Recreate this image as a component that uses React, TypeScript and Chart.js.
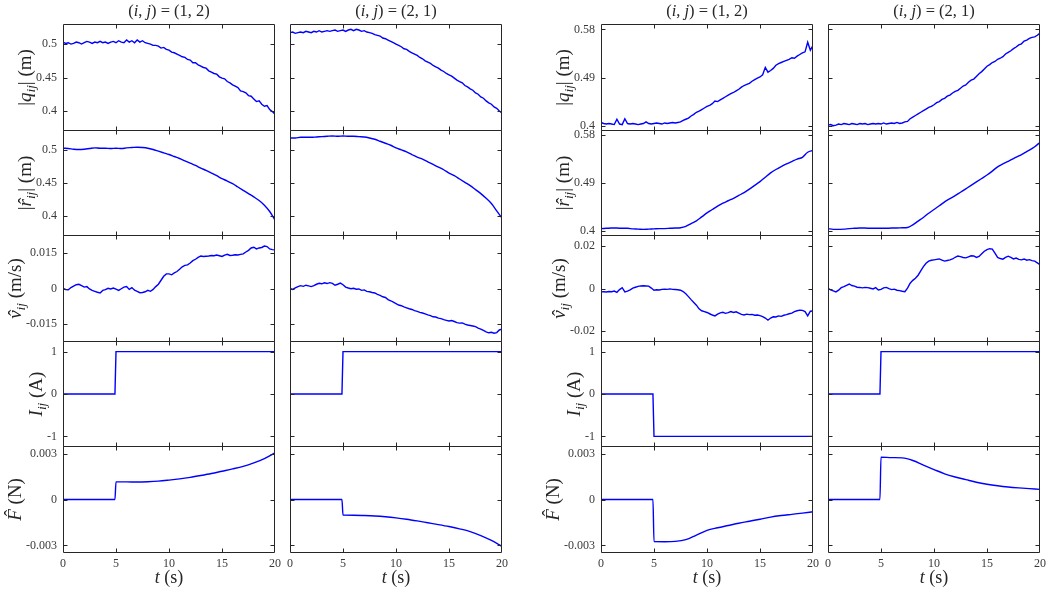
import React, { useEffect, useRef } from "react";
import { Chart, registerables } from "chart.js";
Chart.register(...registerables);

// ---------- sampling grids (s) ----------
const T_FINE = Array.from({ length: 81 }, (_, i) => i * 0.25);
const T_COARSE = Array.from({ length: 41 }, (_, i) => i * 0.5);
const T_CURRENT = [0, 4.9, 5, 20];
const T_FORCE = [0, 4.9, 5, 6, 7, 8, 9, 10, 11, 12, 13, 14, 15, 16, 17, 18, 19, 20];

// ---------- |q_ij| (m) ----------
const Q_L12 = [
  0.503, 0.501, 0.502, 0.5, 0.501, 0.503, 0.502, 0.5,
  0.502, 0.504, 0.503, 0.501, 0.503, 0.502, 0.504, 0.502,
  0.503, 0.501, 0.503, 0.504, 0.502, 0.505, 0.503, 0.502,
  0.506, 0.503, 0.505, 0.502, 0.506, 0.503, 0.505, 0.502,
  0.501, 0.5, 0.498, 0.498, 0.497, 0.494, 0.495, 0.492,
  0.491, 0.488, 0.487, 0.485, 0.483, 0.481, 0.48, 0.477,
  0.476, 0.472, 0.472, 0.469, 0.467, 0.465, 0.464, 0.46,
  0.458, 0.456, 0.455, 0.451, 0.449, 0.448, 0.444, 0.442,
  0.439, 0.437, 0.435, 0.43, 0.429, 0.427, 0.423, 0.422,
  0.418, 0.414, 0.415, 0.41, 0.407, 0.408, 0.402, 0.399,
  0.395,
];
const Q_L21 = [
  0.517, 0.518, 0.516, 0.517, 0.518, 0.517, 0.519, 0.518,
  0.517, 0.519, 0.518, 0.52, 0.518, 0.519, 0.52, 0.519,
  0.52, 0.521, 0.519, 0.52, 0.521, 0.519, 0.521, 0.522,
  0.52, 0.522, 0.521, 0.519, 0.52, 0.518, 0.517, 0.516,
  0.514, 0.513, 0.512, 0.509, 0.508, 0.506, 0.504, 0.502,
  0.5, 0.498, 0.496, 0.493, 0.492, 0.489, 0.487, 0.485,
  0.483, 0.48, 0.478, 0.475, 0.473, 0.471, 0.468, 0.466,
  0.464, 0.461, 0.459, 0.456, 0.454, 0.452, 0.449, 0.446,
  0.444, 0.442, 0.438, 0.436, 0.433, 0.431, 0.427, 0.425,
  0.421, 0.419, 0.415, 0.412, 0.41, 0.406, 0.404, 0.4,
  0.397,
];
const Q_R12 = [
  0.406, 0.404, 0.403, 0.404, 0.403, 0.402, 0.412, 0.403,
  0.402, 0.413, 0.404, 0.403, 0.404, 0.403, 0.402, 0.403,
  0.404, 0.407, 0.404, 0.403, 0.404, 0.405, 0.404, 0.403,
  0.405, 0.404, 0.405, 0.406, 0.405, 0.406, 0.407, 0.41,
  0.412, 0.414, 0.418, 0.421, 0.425, 0.427, 0.43, 0.433,
  0.436, 0.438, 0.441, 0.446, 0.445, 0.448, 0.451, 0.454,
  0.457, 0.46, 0.462, 0.465, 0.468, 0.472, 0.475, 0.477,
  0.479, 0.483, 0.486, 0.489, 0.491, 0.495, 0.509, 0.5,
  0.503, 0.507, 0.513, 0.516, 0.518, 0.52, 0.522, 0.524,
  0.527, 0.526, 0.53, 0.533, 0.536, 0.538, 0.556, 0.541,
  0.55,
];
const Q_R21 = [
  0.401, 0.402, 0.4, 0.401, 0.403, 0.402, 0.404, 0.403,
  0.402, 0.404, 0.403, 0.402, 0.404, 0.403, 0.404, 0.402,
  0.403, 0.404, 0.403, 0.404, 0.403, 0.405, 0.403, 0.404,
  0.405, 0.404, 0.406, 0.404, 0.405, 0.407, 0.408, 0.413,
  0.416, 0.419, 0.422, 0.425, 0.428, 0.431, 0.434, 0.436,
  0.439, 0.443, 0.445, 0.449, 0.451, 0.455, 0.457, 0.461,
  0.464, 0.466, 0.47, 0.474, 0.476, 0.481, 0.485, 0.487,
  0.492, 0.497, 0.501, 0.506, 0.511, 0.514, 0.518, 0.52,
  0.524, 0.526, 0.529, 0.534, 0.537, 0.54, 0.544, 0.547,
  0.551, 0.553, 0.558, 0.56, 0.563, 0.565, 0.566, 0.569,
  0.573,
];

// ---------- |r̂_ij| (m) ----------
const R_L12 = [
  0.5025, 0.502, 0.501, 0.5005, 0.501, 0.502, 0.503, 0.5025, 0.5025, 0.502,
  0.5025, 0.502, 0.503, 0.5035, 0.504, 0.5035, 0.5025, 0.5005, 0.498, 0.4955,
  0.493, 0.49, 0.487, 0.4835, 0.48, 0.4765, 0.4725, 0.469, 0.465, 0.461,
  0.4565, 0.453, 0.449, 0.444, 0.439, 0.434, 0.429, 0.4235, 0.4165, 0.407,
  0.394,
];
const R_L21 = [
  0.518, 0.518, 0.519, 0.519, 0.519, 0.5195, 0.52, 0.5205, 0.521, 0.5205,
  0.521, 0.5205, 0.5205, 0.52, 0.5195, 0.518, 0.516, 0.513, 0.51, 0.507,
  0.503, 0.5, 0.497, 0.493, 0.489, 0.486, 0.482, 0.478, 0.474, 0.47,
  0.465, 0.461, 0.456, 0.451, 0.446, 0.44, 0.434, 0.427, 0.419, 0.408,
  0.397,
];
const R_R12 = [
  0.404, 0.4045, 0.405, 0.405, 0.4045, 0.4045, 0.4035, 0.403, 0.4025, 0.403,
  0.4035, 0.404, 0.404, 0.4045, 0.405, 0.4055, 0.408, 0.4135, 0.4185, 0.426,
  0.4335, 0.44, 0.4465, 0.452, 0.4565, 0.461, 0.4665, 0.472, 0.4785, 0.4855,
  0.4925, 0.501, 0.509, 0.5155, 0.521, 0.526, 0.5305, 0.535, 0.5385, 0.548,
  0.5515,
];
const R_R21 = [
  0.404, 0.4025, 0.4025, 0.403, 0.404, 0.4045, 0.405, 0.405, 0.4045, 0.4045,
  0.4045, 0.4045, 0.405, 0.405, 0.4055, 0.406, 0.411, 0.418, 0.425, 0.433,
  0.44, 0.447, 0.4545, 0.4605, 0.466, 0.4725, 0.479, 0.4855, 0.492, 0.4985,
  0.505, 0.5125, 0.5205, 0.526, 0.531, 0.536, 0.541, 0.5465, 0.552, 0.5585,
  0.5665,
];

// ---------- v̂_ij (m/s) ----------
const V_L12 = [
  0, -0.0004, -0.0005, 0.0004, 0.001, 0.0016, 0.0018, 0.0012,
  0.0006, 0.0008, -0.0002, -0.0008, -0.0012, -0.0016, -0.0019, -0.0008,
  -0.0005, 0.0001, -0.0002, 0.0002, -0.0003, -0.0008, -0.0001, 0.0006,
  0.0008, -0.0004, 0.0004, -0.0007, -0.0012, -0.0018, -0.0017, -0.0014,
  -0.0008, -0.0012, -0.0004, 0.0008, 0.0018, 0.0035, 0.0052, 0.0062,
  0.0062, 0.0058, 0.0066, 0.0072, 0.0082, 0.0092, 0.0098, 0.01,
  0.0108, 0.0118, 0.0124, 0.0132, 0.0138, 0.0136, 0.0137, 0.0138,
  0.014, 0.0139, 0.0142, 0.0139, 0.0136, 0.0142, 0.0145, 0.014,
  0.0141, 0.0143, 0.0142, 0.0145, 0.0147, 0.0155, 0.0162, 0.0172,
  0.0175, 0.0168, 0.0172, 0.0174, 0.018, 0.0178, 0.0168, 0.0165,
  0.0164,
];
const V_L21 = [
  0, -0.0004, 0.0003, 0.0008, 0.0012, 0.0009, 0.0014, 0.0011,
  0.0008, 0.0012, 0.0018, 0.0022, 0.002, 0.0024, 0.0021, 0.0025,
  0.0022, 0.0014, 0.0018, 0.0023, 0.0016, 0.0006, 0.0002, -0.0001,
  0.0001, -0.0003, -0.0002, -0.0008, -0.0006, -0.0012, -0.0014, -0.0017,
  -0.0019, -0.0025, -0.0029, -0.0035, -0.0038, -0.0047, -0.0052, -0.0058,
  -0.0064, -0.007, -0.0073, -0.0078, -0.0082, -0.0086, -0.0089, -0.0094,
  -0.0097, -0.0101, -0.0104, -0.0108, -0.0112, -0.0115, -0.012, -0.0121,
  -0.0126, -0.0128, -0.0132, -0.0135, -0.0138, -0.0136, -0.014, -0.0145,
  -0.0147, -0.0146, -0.0151, -0.0155, -0.0157, -0.0159, -0.0162, -0.0168,
  -0.0172, -0.0178, -0.0184, -0.0188, -0.0186, -0.019, -0.0187, -0.0176,
  -0.0172,
];
const V_R12 = [
  -0.0016, -0.0015, -0.0016, -0.0014, -0.0015, -0.0012, -0.0018, -0.0005,
  0.0004, -0.0016, -0.0012, -0.0006, 0.0002, 0.0006, 0.001, 0.0012,
  0.0013, 0.0012, 0.0011, 0.0002, -0.0008, -0.0006, -0.0007, -0.0004,
  -0.0003, -0.0004, -0.0002, -0.0004, -0.0005, -0.0006, -0.0008, -0.0014,
  -0.0025, -0.0038, -0.0052, -0.0065, -0.0078, -0.0095, -0.0104, -0.0108,
  -0.0112, -0.0118, -0.0124, -0.0128, -0.012, -0.0114, -0.0111, -0.0116,
  -0.0113, -0.0108, -0.0112, -0.0109, -0.0115, -0.0121, -0.0124, -0.012,
  -0.0122, -0.0121, -0.0125, -0.0124, -0.0127, -0.0131, -0.0138, -0.0148,
  -0.0138, -0.0132, -0.0133, -0.0128, -0.013, -0.0125, -0.0122, -0.0118,
  -0.0115, -0.0108, -0.0104, -0.0101, -0.0102, -0.0108, -0.0128, -0.0106,
  -0.0105,
];
const V_R21 = [
  0, -0.0006, -0.0011, -0.0016, -0.0008, 0.0004, 0.0009, 0.0015,
  0.0021, 0.0014, 0.0011, 0.0006, 0.0005, 0.0003, 0.0005, 0.0004,
  0.0001, -0.0002, 0.0004, -0.0007, -0.0004, 0.0003, 0.0005, -0.0001,
  -0.0005, -0.0003, -0.0008, -0.001, -0.0013, -0.0015, 0.0002, 0.0025,
  0.0038, 0.0048, 0.0062, 0.0082, 0.0102, 0.0118, 0.0128, 0.0132,
  0.0134, 0.0136, 0.0138, 0.0133, 0.0128, 0.0131, 0.0134, 0.0138,
  0.0146, 0.0152, 0.0149, 0.0145, 0.0143, 0.0148, 0.0153, 0.0152,
  0.0145, 0.015, 0.0162, 0.0174, 0.0182, 0.0186, 0.0184, 0.0165,
  0.0145, 0.014, 0.0137, 0.0145, 0.0151, 0.0145, 0.0138, 0.0142,
  0.0136, 0.0134, 0.0138, 0.0132, 0.0135, 0.013, 0.0128, 0.012,
  0.0111,
];

// ---------- I_ij (A) ----------
const I_L12 = [0, 0, 1, 1];
const I_L21 = [0, 0, 1, 1];
const I_R12 = [0, 0, -1, -1];
const I_R21 = [0, 0, 1, 1];

// ---------- F̂ (N) ----------
const F_L12 = [0, 0, 0.00115, 0.00115, 0.00114, 0.00116, 0.0012, 0.00127, 0.00135, 0.00145, 0.00157, 0.0017, 0.00185, 0.002, 0.00217, 0.0024, 0.00268, 0.00305];
const F_L21 = [0, 0, -0.00102, -0.00103, -0.00105, -0.00108, -0.00113, -0.0012, -0.00129, -0.0014, -0.00152, -0.00164, -0.00177, -0.00192, -0.0021, -0.00236, -0.00268, -0.00306];
const F_R12 = [0, 0, -0.00275, -0.00276, -0.00274, -0.00263, -0.00233, -0.00202, -0.00185, -0.0017, -0.00155, -0.00142, -0.00129, -0.00115, -0.00105, -0.00097, -0.00089, -0.0008];
const F_R21 = [0, 0, 0.00277, 0.00274, 0.00272, 0.00255, 0.00225, 0.00196, 0.00168, 0.00147, 0.0013, 0.00113, 0.001, 0.0009, 0.00082, 0.00076, 0.00071, 0.00066];

// ---------- ticks ----------
const X_TICKS = [0, 5, 10, 15, 20];
const X_TICK_LABELS = ["0", "5", "10", "15", "20"];
const Q_TICKS_L = [0.4, 0.45, 0.5];
const Q_TICK_LABELS_L = ["0.4", "0.45", "0.5"];
const Q_TICKS_R = [0.4, 0.49, 0.58];
const Q_TICK_LABELS_R = ["0.4", "0.49", "0.58"];
const V_TICKS_L = [-0.015, 0, 0.015];
const V_TICK_LABELS_L = ["-0.015", "0", "0.015"];
const V_TICKS_R = [-0.02, 0, 0.02];
const V_TICK_LABELS_R = ["-0.02", "0", "0.02"];
const I_TICKS = [-1, 0, 1];
const I_TICK_LABELS = ["-1", "0", "1"];
const F_TICKS = [-0.003, 0, 0.003];
const F_TICK_LABELS = ["-0.003", "0", "0.003"];

// axis limits [min, max] for left group / right group
const Q_LIM_L = [0.37, 0.53];
const Q_LIM_R = [0.39, 0.59];
const V_LIM_L = [-0.0227, 0.0227];
const V_LIM_R = [-0.025, 0.025];
const I_LIM = [-1.25, 1.25];
const F_LIM = [-0.0035, 0.0035];

// ---------- text ----------
type Seg = { t: string; it?: boolean; sub?: boolean; hat?: boolean };
const Y_LABELS: Seg[][] = [
  [{ t: "|" }, { t: "q", it: true }, { t: "ij", it: true, sub: true }, { t: "| (m)" }],
  [{ t: "|" }, { t: "r", it: true, hat: true }, { t: "ij", it: true, sub: true }, { t: "| (m)" }],
  [{ t: "v", it: true, hat: true }, { t: "ij", it: true, sub: true }, { t: " (m/s)" }],
  [{ t: "I", it: true }, { t: "ij", it: true, sub: true }, { t: " (A)" }],
  [{ t: "F", it: true, hat: true }, { t: " (N)" }],
];
const PAIR_12 = "(1, 2)";
const PAIR_21 = "(2, 1)";
const X_LABEL: Seg[] = [{ t: "t", it: true }, { t: " (s)" }];
const titleSegs = (pair: string): Seg[] => [
  { t: "(" }, { t: "i", it: true }, { t: ", " }, { t: "j", it: true }, { t: ") = " + pair },
];

// ---------- layout ----------
const COL_LEFT = [63, 290, 601, 828];
const PLOT_W = 212;
const ROW_TOP = [24, 130, 235, 341, 446];
const ROW_H = [107, 106, 107, 106, 107];
const ML = 64, MR = 14, MT = 24, MB = 44;
const FONT = '"Liberation Serif", "Times New Roman", serif';
const INK = "#262626";
const TICK_INK = "#3a3a3a";
const LINE = "#0000ff";

type Col = { pair: string; right: boolean; series: number[][] };
const COLUMNS: Col[] = [
  { pair: PAIR_12, right: false, series: [Q_L12, R_L12, V_L12, I_L12, F_L12] },
  { pair: PAIR_21, right: false, series: [Q_L21, R_L21, V_L21, I_L21, F_L21] },
  { pair: PAIR_12, right: true, series: [Q_R12, R_R12, V_R12, I_R12, F_R12] },
  { pair: PAIR_21, right: true, series: [Q_R21, R_R21, V_R21, I_R21, F_R21] },
];
const ROW_TIMES = [T_FINE, T_COARSE, T_FINE, T_CURRENT, T_FORCE];

function rowAxis(row: number, right: boolean) {
  if (row <= 1) return right
    ? { lim: Q_LIM_R, ticks: Q_TICKS_R, labels: Q_TICK_LABELS_R }
    : { lim: Q_LIM_L, ticks: Q_TICKS_L, labels: Q_TICK_LABELS_L };
  if (row === 2) return right
    ? { lim: V_LIM_R, ticks: V_TICKS_R, labels: V_TICK_LABELS_R }
    : { lim: V_LIM_L, ticks: V_TICKS_L, labels: V_TICK_LABELS_L };
  if (row === 3) return { lim: I_LIM, ticks: I_TICKS, labels: I_TICK_LABELS };
  return { lim: F_LIM, ticks: F_TICKS, labels: F_TICK_LABELS };
}

function segFont(s: Seg, size: number) {
  const sz = s.sub ? size * 0.7 : size;
  return `${s.it ? "italic " : ""}${sz}px ${FONT}`;
}

function drawRich(ctx: CanvasRenderingContext2D, segs: Seg[], x: number, y: number, size: number, rotate: boolean) {
  ctx.save();
  ctx.fillStyle = INK;
  ctx.textBaseline = "alphabetic";
  ctx.textAlign = "left";
  const widths = segs.map((s) => {
    ctx.font = segFont(s, size);
    return ctx.measureText(s.t).width;
  });
  const total = widths.reduce((a, b) => a + b, 0);
  ctx.translate(x, y);
  if (rotate) ctx.rotate(-Math.PI / 2);
  let cx = -total / 2;
  segs.forEach((s, i) => {
    ctx.font = segFont(s, size);
    ctx.fillText(s.t, cx, s.sub ? size * 0.22 : 0);
    if (s.hat) {
      const upper = s.t === s.t.toUpperCase();
      ctx.font = `${size}px ${FONT}`;
      const hw = ctx.measureText("\u02C6").width;
      ctx.fillText("\u02C6", cx + widths[i] / 2 - hw / 2 + size * 0.1, upper ? -size * 0.2 : -size * 0.02);
    }
    cx += widths[i];
  });
  ctx.restore();
}

type Panel = { row: number; col: number; left: number; top: number; w: number; h: number };
const PANELS: Panel[] = [];
for (let r = 0; r < 5; r++) {
  for (let c = 0; c < 4; c++) {
    PANELS.push({
      row: r, col: c,
      left: COL_LEFT[c] - ML, top: ROW_TOP[r] - MT,
      w: ML + PLOT_W + MR, h: MT + ROW_H[r] + MB,
    });
  }
}

function makeChart(canvas: HTMLCanvasElement, p: Panel) {
  const col = COLUMNS[p.col];
  const ax = rowAxis(p.row, col.right);
  const times = ROW_TIMES[p.row];
  const vals = col.series[p.row];
  const pts = times.map((t, i) => ({ x: t, y: vals[i] }));
  const showY = p.col === 0 || p.col === 2;
  const showX = p.row === 4;
  const tickFont = { family: FONT, size: 12 };

  const frame = {
    id: "frame",
    afterDraw(chart: any) {
      const ctx: CanvasRenderingContext2D = chart.ctx;
      const a = chart.chartArea;
      const xs = chart.scales.x;
      const ys = chart.scales.y;
      ctx.save();
      ctx.strokeStyle = INK;
      ctx.lineWidth = 1;
      const L = a.left + 0.5, R = a.right - 0.5, T = a.top + 0.5, B = a.bottom - 0.5;
      ctx.beginPath();
      ctx.rect(L, T, R - L, B - T);
      ctx.stroke();
      const tl = 4;
      ctx.beginPath();
      ys.ticks.forEach((tk: any) => {
        const py = Math.round(ys.getPixelForValue(tk.value)) + 0.5;
        if (py <= T + 1 || py >= B - 1) return;
        ctx.moveTo(L, py); ctx.lineTo(L + tl, py);
        ctx.moveTo(R, py); ctx.lineTo(R - tl, py);
      });
      xs.ticks.forEach((tk: any) => {
        const px = Math.round(xs.getPixelForValue(tk.value)) + 0.5;
        if (px <= L + 1 || px >= R - 1) return;
        ctx.moveTo(px, T); ctx.lineTo(px, T + tl);
        ctx.moveTo(px, B); ctx.lineTo(px, B - tl);
      });
      ctx.stroke();
      ctx.restore();

      const cxm = (a.left + a.right) / 2;
      if (showY) {
        ctx.save();
        ctx.font = `12px ${FONT}`;
        const maxW = Math.max(...ax.labels.map((s) => ctx.measureText(s).width));
        ctx.restore();
        drawRich(ctx, Y_LABELS[p.row], a.left - 6 - maxW - 5, (a.top + a.bottom) / 2, 19, true);
      }
      if (p.row === 0) drawRich(ctx, titleSegs(col.pair), cxm, a.top - 8, 16.5, false);
      if (showX) drawRich(ctx, X_LABEL, cxm, a.bottom + 30, 18, false);
    },
  };

  return new Chart(canvas, {
    type: "line",
    data: {
      datasets: [{
        data: pts,
        borderColor: LINE,
        borderWidth: 1.4,
        pointRadius: 0,
        fill: false,
        tension: 0,
        cubicInterpolationMode: p.row === 1 || p.row === 4 ? "monotone" : "default",
      } as any],
    },
    options: {
      animation: false,
      responsive: false,
      events: [],
      layout: { padding: { left: 0, right: MR, top: MT, bottom: 0 } },
      plugins: { legend: { display: false }, tooltip: { enabled: false } },
      scales: {
        x: {
          type: "linear",
          min: 0,
          max: 20,
          afterBuildTicks: (s: any) => { s.ticks = X_TICKS.map((v) => ({ value: v })); },
          afterFit: (s: any) => { s.height = MB; },
          grid: { display: false, drawTicks: false },
          border: { display: false },
          ticks: {
            display: showX,
            font: tickFont,
            color: TICK_INK,
            padding: 4,
            maxRotation: 0,
            autoSkip: false,
            callback: (_v: any, i: number) => X_TICK_LABELS[i],
          },
        },
        y: {
          type: "linear",
          min: ax.lim[0],
          max: ax.lim[1],
          afterBuildTicks: (s: any) => { s.ticks = ax.ticks.map((v) => ({ value: v })); },
          afterFit: (s: any) => { s.width = ML; },
          grid: { display: false, drawTicks: false },
          border: { display: false },
          ticks: {
            display: showY,
            font: tickFont,
            color: TICK_INK,
            padding: 6,
            autoSkip: false,
            callback: (_v: any, i: number) => ax.labels[i],
          },
        },
      },
    } as any,
    plugins: [frame as any],
  });
}

export default function App() {
  const refs = useRef<(HTMLCanvasElement | null)[]>([]);
  useEffect(() => {
    const charts: Chart[] = [];
    PANELS.forEach((p, k) => {
      const c = refs.current[k];
      if (c) charts.push(makeChart(c, p));
    });
    return () => charts.forEach((ch) => ch.destroy());
  }, []);
  return (
    <div style={{ position: "fixed", left: 0, top: 0, width: 1051, height: 594, overflow: "hidden", background: "#fff" }}>
      {PANELS.map((p, k) => (
        <canvas
          key={k}
          ref={(el) => { refs.current[k] = el; }}
          width={p.w}
          height={p.h}
          style={{ position: "absolute", left: p.left, top: p.top, width: p.w, height: p.h }}
        />
      ))}
    </div>
  );
}
